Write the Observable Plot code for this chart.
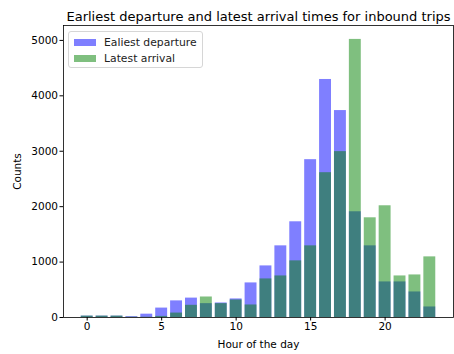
<!DOCTYPE html>
<html>
<head>
<meta charset="utf-8">
<script src="https://cdn.jsdelivr.net/npm/d3@7"></script>
<script src="https://cdn.jsdelivr.net/npm/@observablehq/plot@0.6"></script>
<style>
  body { margin: 0; background: #fff; }
  #wrap { position: relative; width: 454px; height: 354px; font-family: "DejaVu Sans", sans-serif; }
  #legend { position: absolute; left: 68px; top: 31px; width: 133px; height: 35px; border: 1px solid #d6d6d6; border-radius: 3px; background: rgba(255,255,255,0.8); font-size: 10.8px; color: #222; }
  .row { position: absolute; left: 5px; height: 12px; display: flex; align-items: center; }
  .sw { width: 22px; height: 7px; margin-right: 8px; }
</style>
</head>
<body>
<div id="wrap">
  <div id="chart"></div>
  <div id="legend"></div>
</div>
<script>
const hours = [0,1,2,3,4,5,6,7,8,9,10,11,12,13,14,15,16,17,18,19,20,21,22,23];
const departure = [25,25,25,15,60,170,300,350,250,262,335,624,931,1293,1727,2848,4295,3734,1908,1293,642,642,461,190];
const arrival = [25,25,25,5,5,20,80,220,370,250,316,226,696,750,1022,1293,2613,2993,5018,1799,2016,750,768,1094];
const seriesNames = ["Ealiest departure", "Latest arrival"];
const seriesColors = ["blue", "green"];
const xTicks = [0,5,10,15,20];
const yTicks = [0,1000,2000,3000,4000,5000];
const title = "Earliest departure and latest arrival times for inbound trips";

const dep = hours.map((h, i) => ({h, v: departure[i]}));
const arr = hours.map((h, i) => ({h, v: arrival[i]}));

const chart = Plot.plot({
  width: 454,
  height: 354,
  marginLeft: 63,
  marginRight: 1,
  marginTop: 25,
  marginBottom: 37,
  style: {fontFamily: "DejaVu Sans, sans-serif", fontSize: "10.5px", color: "#000", background: "#fff"},
  x: {domain: [-1.59, 24.59]},
  y: {domain: [0, 5269]},
  marks: [
    Plot.rectY(dep, {x1: d => d.h - 0.4, x2: d => d.h + 0.4, y1: 0, y2: "v", fill: seriesColors[0], fillOpacity: 0.5}),
    Plot.rectY(arr, {x1: d => d.h - 0.4, x2: d => d.h + 0.4, y1: 0, y2: "v", fill: seriesColors[1], fillOpacity: 0.5}),
    Plot.frame({stroke: "#000", strokeWidth: 0.8}),
    Plot.axisX({ticks: xTicks, tickSize: 3.5, tickPadding: 2, label: "Hour of the day", labelAnchor: "center", labelArrow: "none", labelOffset: 30, fontSize: 10.5}),
    Plot.axisY({ticks: yTicks, tickSize: 3.5, tickPadding: 2, tickFormat: d => String(d), label: "Counts", labelAnchor: "center", labelArrow: "none", labelOffset: 50, fontSize: 10.5}),
    Plot.text([title], {frameAnchor: "top", dy: -14, fontSize: 13, text: d => d})
  ]
});
document.getElementById("chart").appendChild(chart);

const legend = document.getElementById("legend");
seriesNames.forEach((name, i) => {
  const row = document.createElement("div");
  row.className = "row";
  row.style.top = (4 + i * 16) + "px";
  const sw = document.createElement("div");
  sw.className = "sw";
  sw.style.background = seriesColors[i];
  sw.style.opacity = 0.5;
  row.appendChild(sw);
  const t = document.createElement("span");
  t.textContent = name;
  row.appendChild(t);
  legend.appendChild(row);
});
</script>
</body>
</html>
